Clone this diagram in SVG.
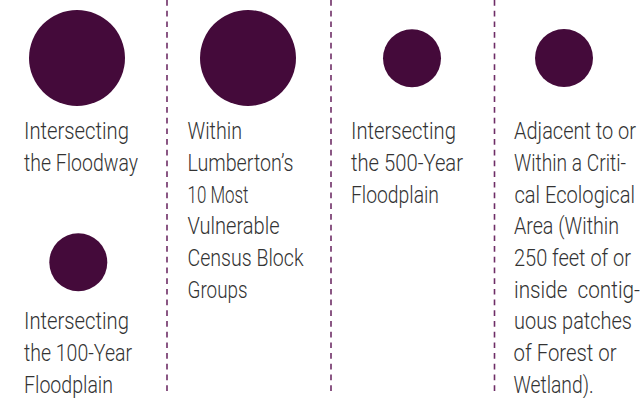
<svg xmlns="http://www.w3.org/2000/svg" width="641" height="398" viewBox="0 0 641 398">
  <style>
    .dot { fill: #440a3a; }
    .sep { stroke: #6e2d66; stroke-width: 1.6; stroke-dasharray: 5.7 5; fill: none; }
    .lbl { font-family: Roboto, "Liberation Sans", sans-serif; font-weight: 300; font-size: 23.5px; fill: #333333; white-space: pre; }
  </style>
  <rect width="641" height="398" fill="#ffffff"/>

  <g id="separators">
    <line class="sep" x1="167" y1="0" x2="167" y2="394"/>
    <line class="sep" x1="331" y1="0" x2="331" y2="394"/>
    <line class="sep" x1="494.5" y1="0" x2="494.5" y2="394"/>
  </g>

  <g id="floodway">
    <circle class="dot" cx="77" cy="58" r="48"/>
    <text class="lbl" x="24" y="139.3" textLength="105" lengthAdjust="spacingAndGlyphs">Intersecting</text>
    <text class="lbl" x="24" y="171" textLength="114" lengthAdjust="spacingAndGlyphs">the Floodway</text>
  </g>

  <g id="floodplain-100">
    <circle class="dot" cx="78.3" cy="262.3" r="29"/>
    <text class="lbl" x="24" y="329.4" textLength="105" lengthAdjust="spacingAndGlyphs">Intersecting</text>
    <text class="lbl" x="24" y="361" textLength="108" lengthAdjust="spacingAndGlyphs">the 100-Year</text>
    <text class="lbl" x="24" y="392.6" textLength="89" lengthAdjust="spacingAndGlyphs">Floodplain</text>
  </g>

  <g id="vulnerable-block-groups">
    <circle class="dot" cx="248" cy="58" r="48"/>
    <text class="lbl" x="187.5" y="139.3" textLength="54.5" lengthAdjust="spacingAndGlyphs">Within</text>
    <text class="lbl" x="187.5" y="171" textLength="106" lengthAdjust="spacingAndGlyphs">Lumberton’s</text>
    <text class="lbl" x="187.5" y="202.7" textLength="61" lengthAdjust="spacingAndGlyphs">10 Most</text>
    <text class="lbl" x="187.5" y="234.4" textLength="92" lengthAdjust="spacingAndGlyphs">Vulnerable</text>
    <text class="lbl" x="187.5" y="266.1" textLength="116" lengthAdjust="spacingAndGlyphs">Census Block</text>
    <text class="lbl" x="187.5" y="297.8" textLength="60" lengthAdjust="spacingAndGlyphs">Groups</text>
  </g>

  <g id="floodplain-500">
    <circle class="dot" cx="412" cy="58.3" r="29"/>
    <text class="lbl" x="351" y="139.3" textLength="105" lengthAdjust="spacingAndGlyphs">Intersecting</text>
    <text class="lbl" x="351" y="171" textLength="112" lengthAdjust="spacingAndGlyphs">the 500-Year</text>
    <text class="lbl" x="351" y="202.7" textLength="88" lengthAdjust="spacingAndGlyphs">Floodplain</text>
  </g>

  <g id="ecological-area">
    <circle class="dot" cx="564" cy="58" r="29"/>
    <!-- narrow column: text is set in a horizontally squeezed frame -->
    <g transform="translate(514 0) scale(0.8 1)">
      <text class="lbl" x="0" y="139.3" textLength="152.5" lengthAdjust="spacingAndGlyphs">Adjacent to or</text>
      <text class="lbl" x="0" y="171" textLength="140" lengthAdjust="spacingAndGlyphs">Within a Criti-</text>
      <text class="lbl" x="0.6" y="202.7" textLength="150.6" lengthAdjust="spacingAndGlyphs">cal Ecological</text>
      <text class="lbl" x="0" y="234.4" textLength="131.2" lengthAdjust="spacingAndGlyphs">Area (Within</text>
      <text class="lbl" x="0" y="266.1" textLength="146.2" lengthAdjust="spacingAndGlyphs">250 feet of or</text>
      <text class="lbl" x="0" y="297.8" textLength="157.5" lengthAdjust="spacingAndGlyphs">inside  contig-</text>
      <text class="lbl" x="0" y="329.5" textLength="147.5" lengthAdjust="spacingAndGlyphs">uous patches</text>
      <text class="lbl" x="-0.6" y="361.2" textLength="128.8" lengthAdjust="spacingAndGlyphs">of Forest or</text>
      <text class="lbl" x="-0.6" y="392.9" textLength="100" lengthAdjust="spacingAndGlyphs">Wetland).</text>
    </g>
  </g>
</svg>
